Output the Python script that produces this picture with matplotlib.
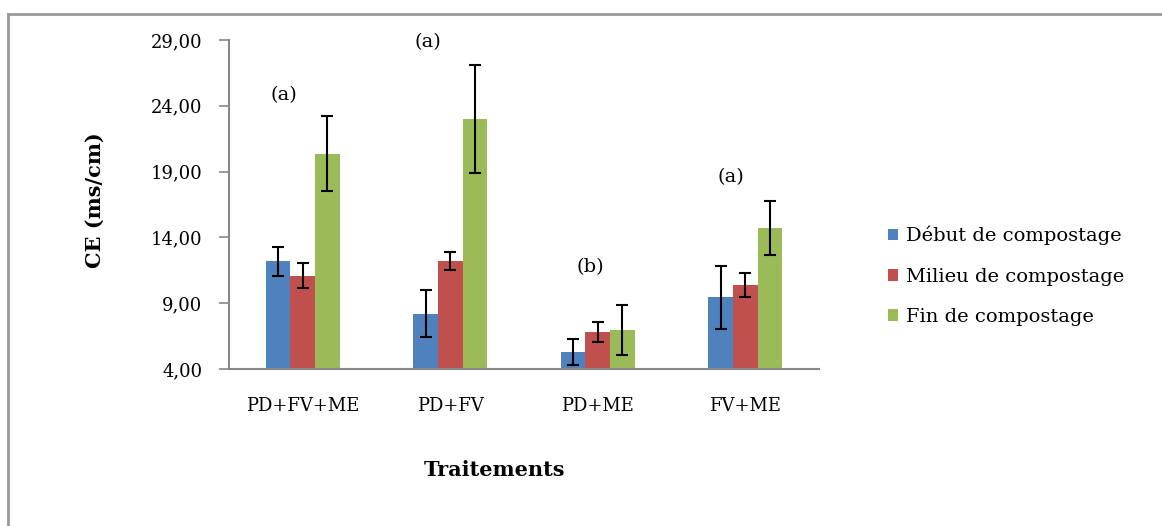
import matplotlib
matplotlib.use("Agg")
import matplotlib.pyplot as plt
import numpy as np
from matplotlib.lines import Line2D

# data
traitements = ["PD+FV+ME", "PD+FV", "PD+ME", "FV+ME"]
debut = [12.2, 8.2, 5.3, 9.45]
debut_err = [1.1, 1.8, 1.0, 2.4]
milieu = [11.1, 12.2, 6.8, 10.4]
milieu_err = [0.95, 0.7, 0.77, 0.9]
fin = [20.35, 23.0, 6.95, 14.7]
fin_err = [2.85, 4.1, 1.9, 2.05]
series_labels = ["Début de compostage", "Milieu de compostage", "Fin de compostage"]
groupes = ["(a)", "(a)", "(b)", "(a)"]
groupes_y = [24.8, 28.85, 11.75, 18.6]
groupes_dx = [-0.13, -0.15, -0.05, -0.1]

colors = ["#4F81BD", "#C0504D", "#9BBB59"]
plt.rcParams["font.family"] = ["DejaVu Serif"]

fig = plt.figure(figsize=(11.62, 5.26), dpi=100)
ax = fig.add_axes([229 / 1162, 1 - 369 / 526, 590 / 1162, 329 / 526])

x = np.arange(len(traitements))
w = 0.5 / 3
for i, (vals, errs) in enumerate([(debut, debut_err), (milieu, milieu_err), (fin, fin_err)]):
    ax.bar(x + (i - 1) * w, np.array(vals) - 4, width=w, bottom=4, color=colors[i],
           label=series_labels[i], zorder=2)
    ax.errorbar(x + (i - 1) * w, vals, yerr=errs, fmt="none", ecolor="black",
                elinewidth=1.5, capsize=4, capthick=1.5, zorder=3)

for xi, txt, yy, dx in zip(x, groupes, groupes_y, groupes_dx):
    ax.text(xi + dx, yy, txt, ha="center", va="center", fontsize=14, clip_on=False)

ax.set_xlim(-0.5, 3.5)
ax.set_ylim(4, 29)
ax.set_yticks([4, 9, 14, 19, 24, 29])
ax.set_yticklabels(["4,00", "9,00", "14,00", "19,00", "24,00", "29,00"], fontsize=13)
ax.set_xticks(x)
ax.set_xticklabels(traitements, fontsize=13)
ax.tick_params(axis="x", length=0, pad=20)
ax.tick_params(axis="y", length=7, width=1.2, color="#888888", pad=12)
for s in ["top", "right"]:
    ax.spines[s].set_visible(False)
for s in ["left", "bottom"]:
    ax.spines[s].set_color("#888888")
    ax.spines[s].set_linewidth(1.5)

fig.text(95 / 1162, 1 - 200 / 526, "CE (ms/cm)", rotation=90, ha="center", va="center",
         fontsize=15, fontweight="bold")
fig.text(495 / 1162, 1 - 470 / 526, "Traitements", ha="center", va="center",
         fontsize=15, fontweight="bold")

fig.legend(loc="center left", bbox_to_anchor=(870 / 1162, 1 - 276 / 526), frameon=False,
           fontsize=14, handlelength=0.55, handleheight=0.55, handletextpad=0.4,
           labelspacing=1.15)

# frame lines around the chart area
fig.add_artist(Line2D([8 / 1162, 8 / 1162], [0, 1 - 14 / 526], color="#999999", lw=2))
fig.add_artist(Line2D([8 / 1162, 1], [1 - 14 / 526, 1 - 14 / 526], color="#999999", lw=2))

fig.savefig("out.png", dpi=100)
